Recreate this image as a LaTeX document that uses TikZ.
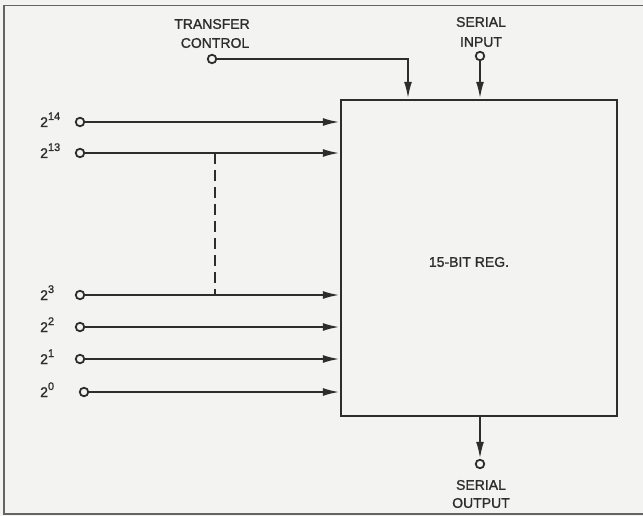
\documentclass[tikz,border=0pt]{standalone}
\usepackage{fontspec}
\setmainfont{Liberation Sans}
\newfontfamily\lettering{Liberation Sans}[FakeBold=1.2]
\usetikzlibrary{arrows.meta}
\definecolor{bgc}{RGB}{243,243,241}
\definecolor{ink}{RGB}{45,45,45}
\definecolor{framec}{RGB}{100,100,100}
\newcommand{\pw}[1]{2\raisebox{7pt}{\fontsize{11}{11}\selectfont #1}}
\begin{document}
\begin{tikzpicture}[x=1pt,y=-1pt,
  wire/.style={draw=ink,line width=2.2pt},
  arr/.style={wire,-{Latex[length=17pt,width=8pt]}},
  term/.style={circle,draw=ink,line width=1.8pt,fill=bgc,inner sep=0pt,minimum size=8.5pt},
  lbl/.style={font=\lettering\fontsize{14}{16}\selectfont,text=ink,inner sep=0pt},
  plbl/.style={font=\lettering\fontsize{14}{16}\selectfont,text=ink,inner sep=0pt,anchor=base west},
  regbox/.style={draw=ink,line width=2.4pt,fill=bgc,minimum width=276pt,minimum height=316pt,inner sep=0pt}
]
\fill[bgc] (0,0) rectangle (643,516);
\useasboundingbox (0,0) rectangle (643,516);
\draw[framec,line width=1.8pt] (643,5.5) -- (4,5.5) -- (4,514) -- (643,514);

% register
\node[regbox] (reg) at (479,258) {};
\node[lbl] (reglabel) at (469,262) {15-BIT REG.};

% transfer control
\node[lbl] (tc1) at (212,24) {TRANSFER};
\node[lbl] (tc2) at (215,43) {CONTROL};
\node[term] (tc) at (212,59) {};
\coordinate (tcbend) at (408,59);
\draw[arr] (tc) -- (tcbend) -- (tcbend |- reg.north);

% serial input
\node[lbl] (si1) at (481,22) {SERIAL};
\node[lbl] (si2) at (481,42) {INPUT};
\node[term] (si) at (480,56) {};
\draw[arr] (si) -- (si |- reg.north);

% serial output
\node[term] (so) at (480,464) {};
\draw[arr] (so |- reg.south) -- (so);
\node[lbl] (so1) at (481,485) {SERIAL};
\node[lbl] (so2) at (481,503) {OUTPUT};

% parallel inputs
\node[term] (i14) at (80,122) {};
\node[term] (i13) at (80,153) {};
\node[term] (i3) at (80,295) {};
\node[term] (i2) at (80,327) {};
\node[term] (i1) at (80,359) {};
\node[term] (i0) at (84,392) {};
\node[plbl] (l14) at (40,127) {\pw{14}};
\node[plbl] (l13) at (40,158) {\pw{13}};
\node[plbl] (l3) at (40,300) {\pw{3}};
\node[plbl] (l2) at (40,332) {\pw{2}};
\node[plbl] (l1) at (40,364) {\pw{1}};
\node[plbl] (l0) at (40,397) {\pw{0}};
\foreach \n in {i14,i13,i3,i2,i1,i0}{
  \draw[arr] (\n) -- (\n -| reg.west);
}
\coordinate (d1) at (215,153);
\coordinate (d2) at (215,295);
\draw[wire,dash pattern=on 11pt off 6pt] (d1) -- (d2);
\end{tikzpicture}
\end{document}
